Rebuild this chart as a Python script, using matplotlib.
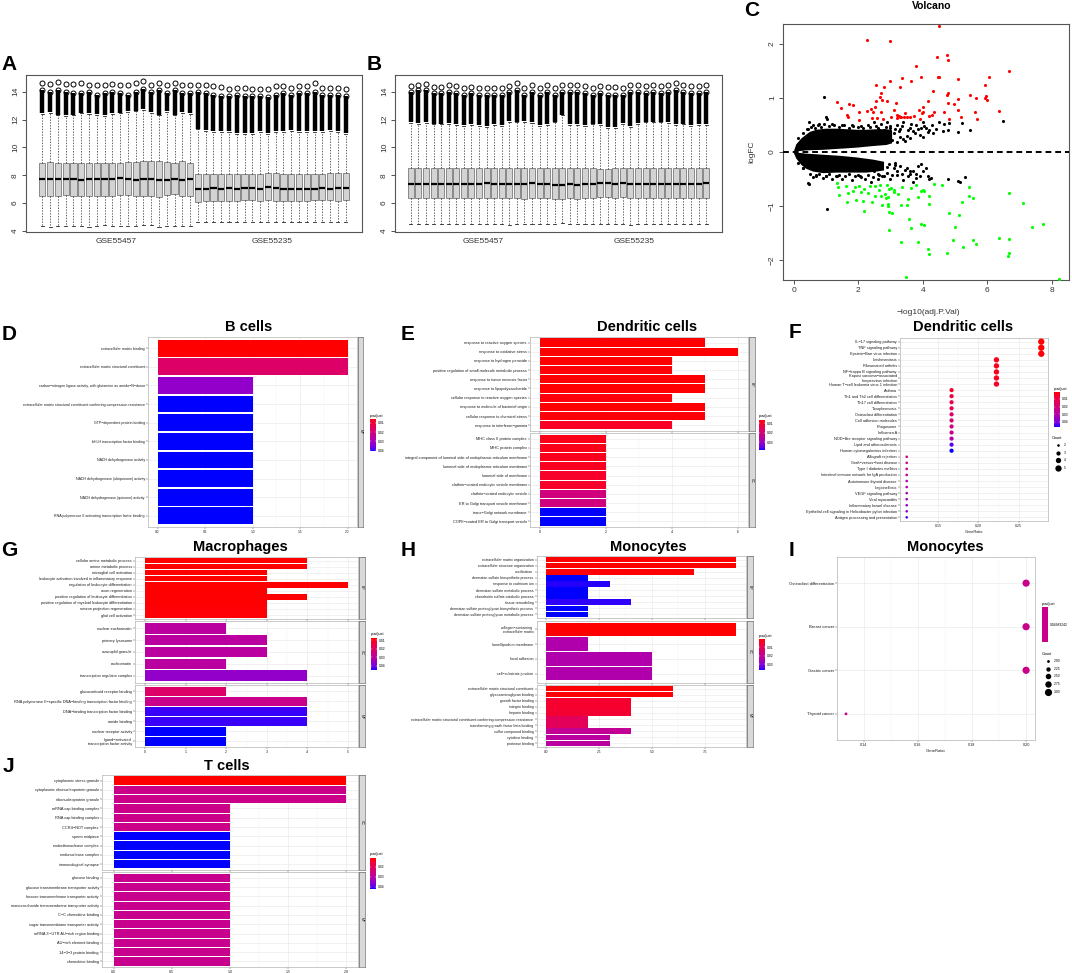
import numpy as np
import matplotlib
matplotlib.use("Agg")
import matplotlib.pyplot as plt
from matplotlib.colors import ListedColormap, Normalize

plt.rcParams['font.family'] = ['Liberation Sans', 'DejaVu Sans']

# ---------------- A / B : boxplots ----------------
a_q1 = [6.55, 6.55, 6.55, 6.60, 6.55, 6.55, 6.55, 6.55, 6.55, 6.55, 6.60, 6.60, 6.50, 6.50, 6.55, 6.45, 6.60, 6.65, 6.50, 6.55,
        6.10, 6.12, 6.18, 6.12, 6.15, 6.18, 6.20, 6.20, 6.12, 6.20, 6.15, 6.12, 6.15, 6.15, 6.15, 6.20, 6.20, 6.20, 6.15, 6.22]
a_med = [7.72, 7.72, 7.70, 7.72, 7.72, 7.68, 7.72, 7.70, 7.72, 7.72, 7.78, 7.74, 7.68, 7.70, 7.72, 7.65, 7.68, 7.76, 7.68, 7.72,
         7.00, 7.02, 7.08, 7.02, 7.08, 7.05, 7.10, 7.12, 7.05, 7.15, 7.10, 7.05, 7.02, 7.05, 7.05, 7.05, 7.08, 7.05, 7.08, 7.12]
a_q3 = [8.90, 8.95, 8.90, 8.90, 8.85, 8.90, 8.90, 8.90, 8.85, 8.85, 8.90, 8.95, 8.95, 9.00, 9.00, 9.00, 8.95, 8.90, 9.00, 8.90,
        8.12, 8.12, 8.10, 8.10, 8.10, 8.12, 8.10, 8.12, 8.10, 8.15, 8.15, 8.12, 8.12, 8.10, 8.12, 8.10, 8.12, 8.15, 8.15, 8.15]
a_lo = [4.35, 4.30, 4.35, 4.35, 4.35, 4.35, 4.30, 4.35, 4.40, 4.35, 4.35, 4.35, 4.35, 4.40, 4.45, 4.30, 4.35, 4.35, 4.35, 4.35,
        4.65, 4.62, 4.65, 4.65, 4.66, 4.68, 4.65, 4.62, 4.62, 4.62, 4.62, 4.65, 4.65, 4.62, 4.62, 4.65, 4.66, 4.65, 4.66, 4.62]
a_hi = [12.40, 12.50, 12.30, 12.25, 12.30, 12.45, 12.40, 12.35, 12.25, 12.40, 12.45, 12.55, 12.60, 12.70, 12.50, 12.30, 12.55, 12.30, 12.50, 12.40,
        11.30, 11.20, 11.10, 11.10, 11.10, 11.00, 11.00, 11.00, 11.10, 11.00, 11.10, 11.10, 11.20, 11.10, 11.10, 11.10, 11.10, 11.20, 11.10, 11.00]
a_dense = [14.1, 14.0, 14.1, 14.0, 13.9, 13.9, 14.0, 13.8, 13.9, 14.0, 13.9, 13.8, 14.0, 14.2, 14.0, 14.1, 13.9, 14.1, 13.9, 13.9,
           14.0, 13.9, 13.8, 13.7, 13.7, 13.8, 13.7, 13.7, 13.7, 13.6, 13.8, 13.9, 13.8, 13.9, 13.9, 14.0, 13.8, 13.8, 13.8, 13.7]
a_top = [14.60, 14.55, 14.70, 14.55, 14.55, 14.60, 14.50, 14.50, 14.50, 14.55, 14.45, 14.45, 14.60, 14.75, 14.50, 14.60, 14.50, 14.60, 14.45, 14.45,
         14.50, 14.50, 14.40, 14.35, 14.20, 14.30, 14.30, 14.20, 14.20, 14.20, 14.40, 14.40, 14.30, 14.40, 14.40, 14.60, 14.30, 14.30, 14.30, 14.20]

b_q1 = [6.35, 6.38, 6.38, 6.38, 6.38, 6.35, 6.38, 6.38, 6.38, 6.38, 6.40, 6.40, 6.35, 6.38, 6.35, 6.30, 6.38, 6.35, 6.38, 6.30,
        6.30, 6.40, 6.30, 6.38, 6.38, 6.45, 6.45, 6.35, 6.45, 6.40, 6.38, 6.38, 6.38, 6.38, 6.38, 6.38, 6.40, 6.38, 6.38, 6.40]
b_med = [7.40, 7.40, 7.38, 7.40, 7.38, 7.40, 7.40, 7.40, 7.40, 7.40, 7.42, 7.40, 7.38, 7.38, 7.38, 7.40, 7.42, 7.38, 7.40, 7.28,
         7.32, 7.40, 7.32, 7.38, 7.38, 7.42, 7.44, 7.38, 7.45, 7.40, 7.35, 7.38, 7.38, 7.38, 7.38, 7.38, 7.40, 7.38, 7.40, 7.42]
b_q3 = [8.50, 8.52, 8.52, 8.52, 8.52, 8.52, 8.50, 8.50, 8.50, 8.50, 8.50, 8.55, 8.52, 8.55, 8.55, 8.52, 8.52, 8.50, 8.52, 8.50,
        8.52, 8.50, 8.50, 8.50, 8.52, 8.45, 8.45, 8.55, 8.50, 8.52, 8.52, 8.52, 8.50, 8.52, 8.50, 8.52, 8.50, 8.50, 8.52, 8.52]
b_lo = [4.50, 4.48, 4.50, 4.48, 4.50, 4.50, 4.48, 4.50, 4.50, 4.50, 4.48, 4.50, 4.50, 4.45, 4.50, 4.52, 4.48, 4.50, 4.50, 4.52,
        4.55, 4.50, 4.50, 4.52, 4.48, 4.50, 4.50, 4.50, 4.48, 4.45, 4.50, 4.52, 4.50, 4.50, 4.52, 4.50, 4.48, 4.50, 4.50, 4.50]
b_hi = [11.75, 11.70, 11.75, 11.65, 11.65, 11.70, 11.60, 11.55, 11.60, 11.55, 11.50, 11.60, 11.55, 11.85, 11.80, 11.85, 11.75, 11.55, 11.60, 11.80,
        12.30, 11.60, 11.60, 11.55, 11.65, 11.60, 11.40, 11.40, 11.70, 11.50, 11.70, 11.80, 11.80, 11.80, 11.75, 11.60, 11.65, 11.55, 11.60, 11.60]
b_dense = [14.0, 14.1, 14.1, 13.9, 13.9, 14.0, 13.9, 13.8, 13.9, 13.8, 13.8, 13.8, 13.8, 14.0, 14.1, 13.8, 14.0, 13.8, 14.0, 13.8,
           14.0, 14.0, 14.0, 13.9, 13.8, 13.9, 13.8, 13.8, 13.8, 14.0, 14.0, 13.9, 14.0, 13.9, 14.0, 14.1, 14.0, 13.9, 13.9, 14.0]
b_top = [14.40, 14.45, 14.55, 14.35, 14.35, 14.45, 14.40, 14.30, 14.35, 14.30, 14.30, 14.30, 14.30, 14.40, 14.60, 14.30, 14.50, 14.30, 14.45, 14.30,
         14.50, 14.50, 14.50, 14.40, 14.30, 14.40, 14.35, 14.35, 14.30, 14.45, 14.50, 14.40, 14.45, 14.40, 14.50, 14.60, 14.45, 14.40, 14.40, 14.45]
box_groups = ['GSE55457', 'GSE55235']

# ---------------- C : volcano ----------------
red_x = [2.26, 2.98, 4.51, 4.45, 4.74, 4.79, 3.78, 3.94, 4.46, 4.50, 3.36, 2.98, 3.62, 5.10, 2.56, 3.29, 2.80, 5.94, 6.04, 6.66,
         4.33, 4.79, 4.74, 5.95, 5.93, 5.65, 5.10, 5.47, 5.98, 2.72, 2.67, 1.33, 2.89, 2.55, 2.75, 3.17, 1.70, 1.85, 4.17, 4.01,
         4.79, 4.98, 5.10, 5.61, 6.36, 1.48, 1.64, 1.69, 2.01, 2.26, 2.41, 2.52, 2.46, 2.72, 3.12, 3.19, 3.45, 3.97, 4.02, 4.36,
         4.66, 5.19, 5.69, 4.80, 2.03, 2.44, 2.57, 2.77, 3.03, 3.25, 3.34, 3.50, 3.60, 3.74, 3.19, 3.91, 4.19, 4.28, 3.89, 3.29, 3.43]
red_y = [2.06, 2.05, 2.32, 1.76, 1.78, 1.69, 1.58, 1.39, 1.38, 1.38, 1.36, 1.31, 1.30, 1.35, 1.24, 1.19, 1.19, 1.24, 1.39, 1.49,
         1.13, 1.09, 1.06, 1.03, 1.00, 0.99, 0.98, 1.06, 0.95, 1.08, 1.02, 0.92, 0.94, 0.94, 0.96, 0.90, 0.88, 0.87, 0.94, 0.83,
         0.91, 0.89, 0.78, 0.73, 0.75, 0.81, 0.68, 0.65, 0.73, 0.76, 0.80, 0.83, 0.73, 0.73, 0.78, 0.69, 0.72, 0.72, 0.73, 0.73,
         0.73, 0.65, 0.61, 0.61, 0.59, 0.62, 0.62, 0.61, 0.64, 0.67, 0.65, 0.64, 0.65, 0.67, 0.62, 0.61, 0.67, 0.69, 0.78, 0.64, 0.64]
green_x = [1.33, 1.37, 1.61, 1.89, 2.01, 2.17, 2.36, 2.52, 2.67, 2.88, 2.95, 3.03, 3.10, 3.36, 3.63, 3.78, 4.00, 4.36, 4.60, 5.42,
           1.39, 1.69, 1.85, 2.10, 2.29, 2.52, 2.65, 2.72, 2.86, 2.93, 3.12, 3.24, 2.83, 3.55, 3.84, 3.93, 4.05, 4.20, 5.43, 5.55,
           6.66, 1.66, 1.92, 2.15, 2.44, 2.75, 2.91, 2.91, 3.34, 3.52, 4.19, 5.21, 7.10, 2.17, 2.95, 3.05, 4.80, 5.11, 3.57, 3.65,
           3.94, 4.05, 2.95, 5.00, 7.38, 7.74, 3.34, 3.86, 4.95, 5.24, 5.57, 5.65, 6.35, 6.66, 4.15, 4.19, 4.74, 6.67, 6.64, 3.48, 8.21]
green_y = [-0.58, -0.64, -0.63, -0.64, -0.62, -0.68, -0.63, -0.62, -0.61, -0.60, -0.68, -0.66, -0.70, -0.64, -0.67, -0.60, -0.70, -0.59, -0.61, -0.64,
           -0.80, -0.75, -0.72, -0.73, -0.75, -0.81, -0.70, -0.81, -0.84, -0.83, -0.74, -0.78, -0.78, -0.87, -0.83, -0.72, -0.71, -0.82, -0.81, -0.85,
           -0.76, -0.92, -0.89, -0.91, -0.92, -0.98, -1.00, -0.95, -0.98, -0.98, -0.96, -0.92, -0.94, -1.08, -1.11, -1.13, -1.12, -1.17, -1.24, -1.41,
           -1.32, -1.34, -1.44, -1.38, -1.38, -1.33, -1.66, -1.66, -1.62, -1.76, -1.62, -1.69, -1.58, -1.61, -1.79, -1.88, -1.87, -1.87, -1.91, -2.30, -2.34]
black_x = [0.95, 1.04, 0.45, 0.47, 6.50, 5.47, 4.64, 4.77, 4.66, 4.80, 5.10, 5.23, 4.33, 5.32, 5.10, 5.16, 4.79, 4.17, 4.27, 3.71,
           3.96, 0.99, 1.04, 0.47, 2.30, 2.50, 2.60, 2.70, 2.80, 2.90, 3.00, 3.10, 3.20, 3.30, 3.40, 3.50, 3.60, 3.70, 3.80, 3.90,
           4.00, 4.10, 4.20, 4.00, 3.60, 3.30, 4.30, 4.50, 3.45, 3.75, 3.95, 2.45, 2.75, 3.05, 1.20, 1.50, 1.80, 0.80, 0.60, 0.40,
           2.10, 2.60, 2.80, 3.00, 3.20, 3.40, 3.60, 3.80, 4.00, 3.10, 3.30, 3.50, 2.90, 2.70, 2.50, 4.20, 3.70, 2.20, 1.80, 1.50,
           1.20, 0.90, 0.60, 0.30, 3.90, 4.10, 2.40, 3.15, 3.55, 2.65, 1.35, 1.00, 0.70, 2.05, 3.85,
           0.15, 0.30, 0.45, 0.55, 0.65, 0.75, 0.85, 0.95, 1.10, 1.25, 1.40, 1.55, 1.70, 1.85, 2.00, 2.15, 2.35, 2.55, 2.65, 2.85,
           3.00, 3.15, 3.25, 3.35, 3.55, 3.65, 3.85, 4.05, 4.15, 4.40, 0.30, 1.00, 1.70, 2.40, 3.20, 3.40,
           0.15, 0.30, 0.50, 0.70, 0.80, 1.00, 1.10, 1.30, 1.40, 1.60, 1.70, 1.90, 2.00, 2.10, 2.30, 2.45, 2.60, 2.75, 2.90, 3.05,
           3.20, 3.35, 3.45, 2.95, 3.15, 3.60, 3.80, 2.20, 1.50, 0.80]
black_y = [1.01, -1.05, -0.57, -0.59, 0.58, 0.40, 0.38, 0.40, 0.52, 0.54, 0.37, 0.53, 0.35, -0.46, -0.54, -0.56, -0.50, -0.45, -0.48, -0.35,
           -0.23, 0.64, 0.61, 0.55, 0.50, 0.55, 0.45, 0.52, 0.40, 0.55, 0.48, 0.35, 0.50, 0.42, 0.55, 0.30, 0.45, 0.38, 0.50, 0.32,
           0.55, 0.45, 0.40, 0.28, 0.25, 0.28, 0.50, 0.55, 0.20, 0.35, 0.45, 0.30, 0.25, 0.22, 0.52, 0.50, 0.50, 0.52, 0.50, 0.42,
           0.48, -0.50, -0.45, -0.50, -0.42, -0.52, -0.40, -0.48, -0.35, -0.30, -0.25, -0.30, -0.28, -0.22, -0.35, -0.50, -0.55, -0.50, -0.52, -0.50,
           -0.50, -0.48, -0.46, -0.30, -0.45, -0.30, -0.55, -0.20, -0.45, -0.42, -0.45, -0.45, -0.42, -0.45, -0.25,
           0.25, 0.35, 0.42, 0.47, 0.44, 0.50, 0.46, 0.52, 0.48, 0.50, 0.46, 0.49, 0.45, 0.48, 0.46, 0.44, 0.47, 0.48, 0.40, 0.47,
           0.44, 0.42, 0.38, 0.48, 0.40, 0.52, 0.42, 0.48, 0.36, 0.42, 0.10, 0.10, 0.12, 0.16, 0.18, 0.24,
           -0.20, -0.30, -0.40, -0.44, -0.40, -0.44, -0.41, -0.45, -0.42, -0.45, -0.41, -0.44, -0.42, -0.46, -0.42, -0.46, -0.40, -0.45, -0.38, -0.42,
           -0.35, -0.40, -0.33, -0.22, -0.24, -0.35, -0.40, -0.20, -0.12, -0.09]
# outline of the dense black clouds
up_cloud_x = [0.00, 0.08, 0.24, 0.39, 0.50, 0.70, 1.00, 1.33, 1.64, 1.95, 2.26, 2.57, 2.88, 3.05, 3.05, 2.88, 2.46, 1.95, 1.43, 0.91, 0.39, 0.08]
up_cloud_y = [0.00, 0.14, 0.25, 0.32, 0.37, 0.41, 0.43, 0.43, 0.42, 0.41, 0.41, 0.42, 0.42, 0.40, 0.16, 0.13, 0.11, 0.08, 0.06, 0.04, 0.03, 0.01]
lo_cloud_x = [0.00, 0.08, 0.24, 0.39, 0.60, 0.91, 1.33, 1.64, 1.95, 2.26, 2.57, 2.80, 2.80, 2.46, 1.95, 1.43, 0.91, 0.39, 0.08]
lo_cloud_y = [-0.01, -0.12, -0.24, -0.31, -0.36, -0.39, -0.38, -0.38, -0.38, -0.38, -0.36, -0.34, -0.18, -0.14, -0.10, -0.07, -0.05, -0.03, -0.01]

# ---------------- D : B cells ----------------
d_terms = ['extracellular matrix binding', 'extracellular matrix structural constituent',
           'carbon−nitrogen ligase activity, with glutamine as amido−N−donor',
           'extracellular matrix structural constituent conferring compression resistance',
           'GTP−dependent protein binding', 'bHLH transcription factor binding', 'NADH dehydrogenase activity',
           'NADH dehydrogenase (ubiquinone) activity', 'NADH dehydrogenase (quinone) activity',
           'RNA polymerase II activating transcription factor binding']
d_count = [2, 2, 1, 1, 1, 1, 1, 1, 1, 1]
d_padj = [0.0056, 0.018, 0.033, 0.041, 0.041, 0.041, 0.041, 0.041, 0.041, 0.041]

# ---------------- E : Dendritic cells (GO) ----------------
e_bp_terms = ['response to reactive oxygen species', 'response to oxidative stress', 'response to hydrogen peroxide',
              'positive regulation of small molecule metabolic process', 'response to tumor necrosis factor',
              'response to lipopolysaccharide', 'cellular response to reactive oxygen species',
              'response to molecule of bacterial origin', 'cellular response to chemical stress', 'response to interferon−gamma']
e_bp_count = [5, 6, 4, 4, 5, 5, 4, 5, 5, 4]
e_bp_padj = [0.0068, 0.0068, 0.0070, 0.0072, 0.0070, 0.0070, 0.0075, 0.0070, 0.0072, 0.0095]
e_cc_terms = ['MHC class II protein complex', 'MHC protein complex',
              'integral component of lumenal side of endoplasmic reticulum membrane',
              'lumenal side of endoplasmic reticulum membrane', 'lumenal side of membrane',
              'clathrin−coated endocytic vesicle membrane', 'clathrin−coated endocytic vesicle',
              'ER to Golgi transport vesicle membrane', 'trans−Golgi network membrane',
              'COPII−coated ER to Golgi transport vesicle']
e_cc_count = [2, 2, 2, 2, 2, 2, 2, 2, 2, 2]
e_cc_padj = [0.0084, 0.0084, 0.0087, 0.0090, 0.0100, 0.0100, 0.0210, 0.0210, 0.0384, 0.0384]

# ---------------- F : Dendritic cells (KEGG) ----------------
f_terms = ['IL−17 signaling pathway', 'TNF signaling pathway', 'Epstein−Barr virus infection', 'Leishmaniasis',
           'Rheumatoid arthritis', 'NF−kappa B signaling pathway', 'Kaposi sarcoma−associated\nherpesvirus infection',
           'Human T−cell leukemia virus 1 infection', 'Asthma', 'Th1 and Th2 cell differentiation',
           'Th17 cell differentiation', 'Toxoplasmosis', 'Osteoclast differentiation', 'Cell adhesion molecules',
           'Phagosome', 'Influenza A', 'NOD−like receptor signaling pathway', 'Lipid and atherosclerosis',
           'Human cytomegalovirus infection', 'Allograft rejection', 'Graft−versus−host disease',
           'Type I diabetes mellitus', 'Intestinal immune network for IgA production', 'Autoimmune thyroid disease',
           'Legionellosis', 'VEGF signaling pathway', 'Viral myocarditis', 'Inflammatory bowel disease',
           'Epithelial cell signaling in Helicobacter pylori infection', 'Antigen processing and presentation']
f_count = [5, 5, 5, 4, 4, 4, 4, 4, 3, 3, 3, 3, 3, 3, 3, 3, 3, 3, 3, 2, 2, 2, 2, 2, 2, 2, 2, 2, 2, 2]
f_ratio = [c / 18 for c in f_count]
f_padj = [0.0010, 0.0010, 0.0019, 0.0033, 0.0033, 0.0037, 0.0046, 0.0056, 0.0065, 0.0101,
          0.0124, 0.0147, 0.0170, 0.0192, 0.0215, 0.0238, 0.0306, 0.0430, 0.0466, 0.0238,
          0.0238, 0.0261, 0.0284, 0.0293, 0.0306, 0.0329, 0.0338, 0.0352, 0.0375, 0.0443]

# ---------------- G : Macrophages ----------------
g_bp_terms = ['cellular amine metabolic process', 'amine metabolic process', 'microglial cell activation',
              'leukocyte activation involved in inflammatory response', 'regulation of leukocyte differentiation',
              'axon regeneration', 'positive regulation of leukocyte differentiation',
              'positive regulation of myeloid leukocyte differentiation', 'neuron projection regeneration',
              'glial cell activation']
g_bp_count = [4, 4, 3, 3, 5, 3, 4, 3, 3, 3]
g_bp_padj = [0.0076, 0.0076, 0.0077, 0.0077, 0.0077, 0.0078, 0.0078, 0.0078, 0.0079, 0.0079]
g_cc_terms = ['nuclear euchromatin', 'primary lysosome', 'azurophil granule', 'euchromatin', 'transcription regulator complex']
g_cc_count = [2, 3, 3, 2, 4]
g_cc_padj = [0.0299, 0.0299, 0.0299, 0.0299, 0.0365]
g_mf_terms = ['glucocorticoid receptor binding',
              'RNA polymerase II−specific DNA−binding transcription factor binding',
              'DNA−binding transcription factor binding', 'amide binding', 'nuclear receptor activity',
              'ligand−activated\ntranscription factor activity']
g_mf_count = [2, 4, 4, 4, 2, 2]
g_mf_padj = [0.0206, 0.0262, 0.0436, 0.0436, 0.0447, 0.0447]

# ---------------- H : Monocytes (GO) ----------------
h_bp_terms = ['extracellular matrix organization', 'extracellular structure organization', 'ossification',
              'dermatan sulfate biosynthetic process', 'response to cadmium ion', 'dermatan sulfate metabolic process',
              'chondroitin sulfate catabolic process', 'tissue remodeling',
              'dermatan sulfate proteoglycan biosynthetic process', 'dermatan sulfate proteoglycan metabolic process']
h_bp_count = [9, 9, 7, 2, 3, 2, 2, 4, 2, 2]
h_bp_padj = [0.0006, 0.0006, 0.0010, 0.0370, 0.0365, 0.0370, 0.0370, 0.0362, 0.0370, 0.0370]
h_cc_terms = ['collagen−containing\nextracellular matrix', 'lamellipodium membrane', 'focal adhesion', 'cell−substrate junction']
h_cc_count = [9, 2, 5, 5]
h_cc_padj = [0.0006, 0.0243, 0.0243, 0.0243]
h_mf_terms = ['extracellular matrix structural constituent', 'glycosaminoglycan binding', 'growth factor binding',
              'integrin binding', 'heparin binding',
              'extracellular matrix structural constituent conferring compression resistance',
              'transforming growth factor beta binding', 'sulfur compound binding', 'cytokine binding', 'protease binding']
h_mf_count = [6, 6, 4, 4, 4, 2, 2, 4, 3, 3]
h_mf_padj = [0.0008, 0.0010, 0.0050, 0.0050, 0.0055, 0.0115, 0.0115, 0.0206, 0.0224, 0.0224]

# ---------------- I : Monocytes (KEGG) ----------------
i_terms = ['Osteoclast differentiation', 'Breast cancer', 'Gastric cancer', 'Thyroid cancer']
i_count = [3, 3, 3, 2]
i_ratio = [c / 15 for c in i_count]
i_padj = 0.04983242

# ---------------- J : T cells ----------------
j_cc_terms = ['cytoplasmic stress granule', 'cytoplasmic ribonucleoprotein granule', 'ribonucleoprotein granule',
              'mRNA cap binding complex', 'RNA cap binding complex', 'CCR4−NOT complex', 'sperm midpiece',
              'endoribonuclease complex', 'endonuclease complex', 'immunological synapse']
j_cc_count = [2, 2, 2, 1, 1, 1, 1, 1, 1, 1]
j_cc_padj = [0.011, 0.0265, 0.0265, 0.0265, 0.0265, 0.0265, 0.042, 0.042, 0.042, 0.042]
j_mf_terms = ['glucose binding', 'glucose transmembrane transporter activity', 'hexose transmembrane transporter activity',
              'monosaccharide transmembrane transporter activity', 'C−C chemokine binding',
              'sugar transmembrane transporter activity', "mRNA 3'−UTR AU−rich region binding",
              'AU−rich element binding', '14−3−3 protein binding', 'chemokine binding']
j_mf_count = [1] * 10
j_mf_padj = [0.0271] * 10


# ---------------- helpers ----------------
W, H = 1072, 973
fig = plt.figure(figsize=(W / 100, H / 100), dpi=100)

M = np.array([[0.4124, 0.3576, 0.1805], [0.2126, 0.7152, 0.0722], [0.0193, 0.1192, 0.9505]])
WHITE = np.array([0.95047, 1.0, 1.08883])


def to_lab(rgb):
    c = np.asarray(rgb, float)
    lin = np.where(c <= 0.04045, c / 12.92, ((c + 0.055) / 1.055) ** 2.4)
    xyz = M @ lin / WHITE
    f = np.where(xyz > 0.008856, np.cbrt(xyz), 7.787 * xyz + 16 / 116)
    return np.array([116 * f[1] - 16, 500 * (f[0] - f[1]), 200 * (f[1] - f[2])])


def from_lab(lab):
    fy = (lab[0] + 16) / 116
    f = np.array([fy + lab[1] / 500, fy, fy - lab[2] / 200])
    xyz = np.where(f ** 3 > 0.008856, f ** 3, (f - 16 / 116) / 7.787) * WHITE
    lin = np.clip(np.linalg.solve(M, xyz), 0, 1)
    return np.clip(np.where(lin <= 0.0031308, 12.92 * lin, 1.055 * lin ** (1 / 2.4) - 0.055), 0, 1)


# red -> blue in Lab space, like ggplot's continuous fill scale
lab_r, lab_b = to_lab([1, 0, 0]), to_lab([0, 0, 1])
cmap = ListedColormap([from_lab(lab_r + t * (lab_b - lab_r)) for t in np.linspace(0, 1, 256)])


def px_axes(x0, y0, x1, y1):
    return fig.add_axes([x0 / W, 1 - y1 / H, (x1 - x0) / W, (y1 - y0) / H])


def ftext(x, y, s, **kw):
    fig.text(x / W, 1 - y / H, s, **kw)


def strip(x, y0, y1, label):
    ax = px_axes(x, y0, x + 6, y1)
    ax.set_facecolor('#D9D9D9')
    ax.set_xticks([])
    ax.set_yticks([])
    for s in ax.spines.values():
        s.set_color('#4D4D4D')
        s.set_linewidth(0.4)
    ax.text(0.5, 0.5, label, rotation=270, ha='center', va='center', fontsize=2.6,
            color='#1A1A1A', transform=ax.transAxes)


def style_gg(ax, xticks, fs):
    minors = (np.array(xticks[:-1]) + np.array(xticks[1:])) / 2
    ax.set_xticks(xticks)
    ax.set_xticks(minors, minor=True)
    ax.grid(True, which='major', color='#EBEBEB', lw=0.5)
    ax.grid(True, which='minor', axis='x', color='#F4F4F4', lw=0.3)
    ax.set_axisbelow(True)
    ax.tick_params(length=1.2, width=0.3, color='#333333', pad=1, labelsize=fs, labelcolor='#1A1A1A')
    ax.tick_params(which='minor', length=0)
    for s in ax.spines.values():
        s.set_color('#B3B3B3')
        s.set_linewidth(0.5)


def go_bars(x0, x1, y0, y1, facets, xmax, xticks, xlabels, vmin, vmax, fs=2.8):
    gap = 2.5
    nf = len(facets)
    h = (y1 - y0 - gap * (nf - 1)) / nf
    norm = Normalize(vmin, vmax)
    for i, (onto, terms, counts, padj) in enumerate(facets):
        top = y0 + i * (h + gap)
        ax = px_axes(x0, top, x1, top + h)
        pos = np.arange(len(terms))[::-1]
        ax.barh(pos, counts, height=0.9, color=cmap(norm(np.asarray(padj))), zorder=2)
        ax.set_xlim(-0.05 * xmax, 1.05 * xmax)
        ax.set_ylim(-0.6, len(terms) - 0.4)
        ax.set_yticks(pos, terms)
        style_gg(ax, xticks, fs)
        if i == nf - 1:
            ax.set_xticklabels(xlabels, fontsize=fs * 0.9)
        else:
            ax.set_xticklabels([])
        strip(x1 + 0.5, top, top + h, onto)


def pbar(x, y0, y1, vmin, vmax, ticks, labels, single=False):
    ftext(x, y0 - 1.5, 'p.adjust', fontsize=2.8, va='bottom', ha='left')
    ax = px_axes(x, y0, x + 6, y1)
    if single:
        ax.imshow(np.full((2, 2), 0.5), aspect='auto', cmap=cmap, vmin=0, vmax=1, extent=(0, 1, 1, 0))
        ax.set_ylim(1, 0)
    else:
        ax.imshow(np.linspace(vmin, vmax, 200)[:, None], aspect='auto', cmap=cmap,
                  norm=Normalize(vmin, vmax), extent=(0, 1, vmax, vmin))
        ax.set_ylim(vmax, vmin)
        for t in ticks:
            ax.plot([0, 0.2], [t, t], color='white', lw=0.3)
            ax.plot([0.8, 1], [t, t], color='white', lw=0.3)
    ax.set_xlim(0, 1)
    ax.set_xticks([])
    ax.yaxis.tick_right()
    ax.set_yticks(ticks, labels)
    ax.tick_params(length=0, pad=1.5, labelsize=2.4)
    for s in ax.spines.values():
        s.set_visible(False)


def dot_diam(c, cmin, cmax, dmin, dmax):
    c = np.asarray(c, float)
    return np.sqrt(dmin ** 2 + (c - cmin) / (cmax - cmin) * (dmax ** 2 - dmin ** 2))


def count_legend(x, y, vals, labels, cmin, cmax, dmin, dmax):
    ftext(x, y, 'Count', fontsize=2.8, va='bottom', ha='left')
    d = dot_diam(vals, cmin, cmax, dmin, dmax)
    ycur = y + 2
    for di, lab in zip(d, labels):
        yc = ycur + max(di, 6.5) / 2
        ax = px_axes(x + 2, yc - 4, x + 10, yc + 4)
        ax.scatter([0.5], [0.5], s=(di * 0.72) ** 2, color='black', linewidths=0)
        ax.set_xlim(0, 1)
        ax.set_ylim(0, 1)
        ax.axis('off')
        ftext(x + 12, yc, lab, fontsize=2.4, va='center', ha='left')
        ycur = yc + max(di, 6.5) / 2 + 1


def dot_panel(x0, x1, y0, y1, terms, ratio, counts, colors, xlim, xticks, xlabels, cmin, cmax, dmin, dmax, fs=2.8):
    ax = px_axes(x0, y0, x1, y1)
    pos = np.arange(len(terms))[::-1]
    d = dot_diam(counts, cmin, cmax, dmin, dmax)
    ax.scatter(ratio, pos, s=(d * 0.72) ** 2, c=colors, linewidths=0, zorder=3)
    ax.set_xlim(*xlim)
    ax.set_ylim(-0.6, len(terms) - 0.4)
    ax.set_yticks(pos, terms)
    style_gg(ax, xticks, fs)
    ax.set_xticklabels(xlabels, fontsize=fs * 0.9)
    ax.set_xlabel('GeneRatio', fontsize=fs, labelpad=1.5, color='#1A1A1A')
    return ax


def box_panel(x0, x1, q1, med, q3, lo, hi, dense, top):
    ax = px_axes(x0, 75, x1, 232)
    pos = np.arange(1, len(med) + 1)
    stats = [dict(med=med[i], q1=q1[i], q3=q3[i], whislo=lo[i], whishi=hi[i], fliers=[]) for i in range(len(med))]
    ax.bxp(stats, positions=pos, widths=0.8, patch_artist=True, showfliers=False, capwidths=0.4,
           boxprops=dict(facecolor='#D3D3D3', edgecolor='#7A7A7A', lw=0.6),
           whiskerprops=dict(color='#222222', lw=0.5, ls=(0, (2, 2))),
           capprops=dict(color='#222222', lw=0.6),
           medianprops=dict(color='black', lw=1.6))
    ax.vlines(pos, np.asarray(hi) + 0.05, dense, color='black', lw=3.2, zorder=3)
    ax.plot(pos, dense, 'o', mfc='none', mec='black', ms=3.6, mew=0.7, zorder=3)
    ax.plot(pos, top, 'o', mfc='none', mec='black', ms=3.6, mew=0.7, zorder=3)
    ax.set_xlim(-1.1, 42.1)
    ax.set_ylim(3.93, 15.2)
    ax.set_yticks([4, 6, 8, 10, 12, 14])
    ax.tick_params(axis='y', labelrotation=90, length=3, width=0.6, labelsize=6, pad=2, colors='#333333')
    for lab in ax.get_yticklabels():
        lab.set_va('center')
    ax.set_xticks([10.5, 30.5], box_groups)
    ax.tick_params(axis='x', length=0, labelsize=6, pad=4, colors='#333333')
    for s in ax.spines.values():
        s.set_color('#555555')
        s.set_linewidth(0.8)


# ---------------- A, B ----------------
box_panel(26, 362, a_q1, a_med, a_q3, a_lo, a_hi, a_dense, a_top)
box_panel(395, 722, b_q1, b_med, b_q3, b_lo, b_hi, b_dense, b_top)

# ---------------- C ----------------
axc = px_axes(783, 24, 1069, 280)
axc.fill(up_cloud_x, up_cloud_y, color='black', lw=0, zorder=1)
axc.fill(lo_cloud_x, lo_cloud_y, color='black', lw=0, zorder=1)
axc.scatter(black_x, black_y, s=5, color='black', linewidths=0, zorder=2)
axc.scatter(red_x, red_y, s=5, color='#FF0000', linewidths=0, zorder=3)
axc.scatter(green_x, green_y, s=5, color='#00FF00', linewidths=0, zorder=3)
axc.axhline(0, color='black', lw=1.4, ls=(0, (3, 2)), zorder=4)
axc.set_xlim(-0.33, 8.53)
axc.set_ylim(-2.36, 2.36)
axc.set_xticks([0, 2, 4, 6, 8])
axc.set_yticks([-2, -1, 0, 1, 2])
axc.tick_params(length=3, width=0.6, labelsize=6, pad=2, colors='#333333')
axc.tick_params(axis='y', labelrotation=90)
for lab in axc.get_yticklabels():
    lab.set_va('center')
for s in axc.spines.values():
    s.set_color('#555555')
    s.set_linewidth(0.8)
ftext(932, 6, 'Volcano', fontsize=7.5, fontweight='bold', ha='center', va='center')
ftext(928, 313, '−log10(adj.P.Val)', fontsize=6, ha='center', va='center', color='#333333')
ftext(752, 152, 'logFC', fontsize=6, rotation=90, ha='center', va='center', color='#333333')

# ---------------- D ----------------
go_bars(148, 357, 337, 527, [('MF', d_terms, d_count, d_padj)], 2.0,
        [0, 0.5, 1.0, 1.5, 2.0], ['0.0', '0.5', '1.0', '1.5', '2.0'], 0.0056, 0.041, fs=2.6)
pbar(370, 419, 451, 0.0056, 0.041, [0.01, 0.02, 0.03, 0.04], ['0.01', '0.02', '0.03', '0.04'])

# ---------------- E ----------------
go_bars(530, 748, 337, 527, [('BP', e_bp_terms, e_bp_count, e_bp_padj), ('CC', e_cc_terms, e_cc_count, e_cc_padj)],
        6, [0, 2, 4, 6], ['0', '2', '4', '6'], 0.0068, 0.0384)
pbar(759, 420, 450, 0.0068, 0.0384, [0.01, 0.02, 0.03], ['0.01', '0.02', '0.03'])

# ---------------- F ----------------
f_norm = Normalize(0.001, 0.0466)
dot_panel(900, 1048, 338, 521, f_terms, f_ratio, f_count, cmap(f_norm(np.asarray(f_padj))),
          (0.1028, 0.2861), [0.15, 0.20, 0.25], ['0.15', '0.20', '0.25'], 2, 5, 2.6, 6.3)
pbar(1054, 392, 427, 0.001, 0.0466, [0.01, 0.02, 0.03, 0.04], ['0.01', '0.02', '0.03', '0.04'])
count_legend(1052, 440, [2, 3, 4, 5], ['2', '3', '4', '5'], 2, 5, 2.6, 6.3)

# ---------------- G ----------------
go_bars(135, 358, 557, 747, [('BP', g_bp_terms, g_bp_count, g_bp_padj), ('CC', g_cc_terms, g_cc_count, g_cc_padj),
                             ('MF', g_mf_terms, g_mf_count, g_mf_padj)],
        5, [0, 1, 2, 3, 4, 5], ['0', '1', '2', '3', '4', '5'], 0.0076, 0.0447)
pbar(371, 638, 670, 0.0076, 0.0447, [0.01, 0.02, 0.03, 0.04], ['0.01', '0.02', '0.03', '0.04'])

# ---------------- H ----------------
go_bars(536.5, 746, 556, 747, [('BP', h_bp_terms, h_bp_count, h_bp_padj), ('CC', h_cc_terms, h_cc_count, h_cc_padj),
                               ('MF', h_mf_terms, h_mf_count, h_mf_padj)],
        9, [0, 2.5, 5.0, 7.5], ['0.0', '2.5', '5.0', '7.5'], 0.0006, 0.037, fs=2.6)
pbar(759, 639, 670, 0.0006, 0.037, [0.01, 0.02, 0.03], ['0.01', '0.02', '0.03'])

# ---------------- I ----------------
dot_panel(837, 1035, 557, 740, i_terms, i_ratio, i_count, [cmap(0.5)] * len(i_terms),
          (0.13, 0.2033), [0.14, 0.16, 0.18, 0.20], ['0.14', '0.16', '0.18', '0.20'], 2, 3, 2.8, 7.2, fs=3.0)
pbar(1042, 607, 642, i_padj, i_padj, [0.5], [f'{i_padj:.8f}'], single=True)
count_legend(1042, 656, [2.0, 2.25, 2.5, 2.75, 3.0], ['2.00', '2.25', '2.50', '2.75', '3.00'], 2, 3, 2.8, 7.2)

# ---------------- J ----------------
go_bars(102, 358, 775, 967, [('CC', j_cc_terms, j_cc_count, j_cc_padj), ('MF', j_mf_terms, j_mf_count, j_mf_padj)],
        2.0, [0, 0.5, 1.0, 1.5, 2.0], ['0.0', '0.5', '1.0', '1.5', '2.0'], 0.011, 0.042)
pbar(370, 858, 889, 0.011, 0.042, [0.02, 0.03, 0.04], ['0.02', '0.03', '0.04'])

# ---------------- titles & letters ----------------
for x, y, s in [(249, 327, 'B cells'), (647, 327, 'Dendritic cells'), (963, 327, 'Dendritic cells'),
                (240, 547, 'Macrophages'), (648, 547, 'Monocytes'), (945, 547, 'Monocytes'), (227, 766, 'T cells')]:
    ftext(x, y, s, fontsize=10.5, fontweight='bold', ha='center', va='center')

for x, y, s in [(9, 65, 'A'), (374, 65, 'B'), (752, 10, 'C'), (9, 334, 'D'), (408, 334, 'E'), (795, 333, 'F'),
                (9, 550, 'G'), (408, 550, 'H'), (792, 550, 'I'), (8, 767, 'J')]:
    ftext(x, y, s, fontsize=15, fontweight='bold', ha='center', va='center')

fig.savefig('out.png', dpi=100)
